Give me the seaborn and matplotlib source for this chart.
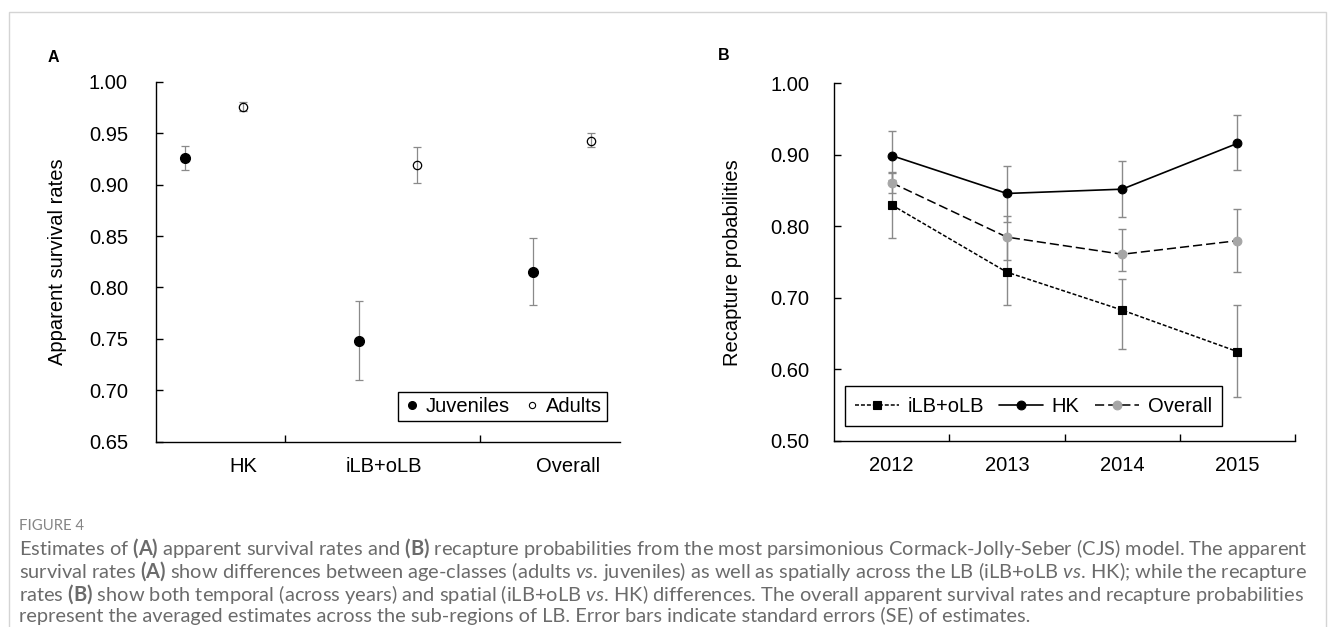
import numpy as np
import pandas as pd
import matplotlib
matplotlib.use("Agg")
import matplotlib.pyplot as plt
from matplotlib.lines import Line2D
from matplotlib.patches import Rectangle
from matplotlib.ticker import FixedLocator, FormatStrFormatter
import seaborn as sns

# ---------------- data ----------------
# Panel A: apparent survival rates
regions = ["HK", "iLB+oLB", "Overall"]
age_classes = ["Juveniles", "Adults"]
juv_survival = [0.926, 0.748, 0.815]
juv_lower = [0.914, 0.710, 0.783]
juv_upper = [0.938, 0.787, 0.848]
adult_survival = [0.976, 0.919, 0.943]
adult_lower = [0.9715, 0.902, 0.937]
adult_upper = [0.9805, 0.937, 0.950]

# Panel B: recapture probabilities
years = ["2012", "2013", "2014", "2015"]
series_names = ["iLB+oLB", "HK", "Overall"]
ilb_recap = [0.830, 0.736, 0.683, 0.625]
ilb_lower = [0.784, 0.690, 0.628, 0.562]
ilb_upper = [0.876, 0.782, 0.726, 0.690]
hk_recap = [0.899, 0.846, 0.852, 0.916]
hk_lower = [0.865, 0.806, 0.813, 0.879]
hk_upper = [0.934, 0.885, 0.892, 0.955]
overall_recap = [0.861, 0.785, 0.761, 0.780]
overall_lower = [0.847, 0.753, 0.738, 0.736]
overall_upper = [0.875, 0.815, 0.797, 0.824]

caption_title = "FIGURE 4"
caption_lines = [
    r"Estimates of $\mathbf{(A)}$ apparent survival rates and $\mathbf{(B)}$ recapture probabilities from the most parsimonious Cormack-Jolly-Seber (CJS) model. The apparent",
    r"survival rates $\mathbf{(A)}$ show differences between age-classes (adults $\mathit{vs.}\,$juveniles) as well as spatially across the LB (iLB+oLB $\mathit{vs.}\,$HK); while the recapture",
    r"rates $\mathbf{(B)}$ show both temporal (across years) and spatial (iLB+oLB $\mathit{vs.}\,$HK) differences. The overall apparent survival rates and recapture probabilities",
    r"represent the averaged estimates across the sub-regions of LB. Error bars indicate standard errors (SE) of estimates.",
]

# ---------------- style ----------------
sns.set_theme(style="ticks")
plt.rcParams.update({
    "font.family": ["Liberation Sans", "DejaVu Sans"],
    "mathtext.fontset": "custom",
    "mathtext.rm": "Lato",
    "mathtext.bf": "Lato:bold",
    "mathtext.it": "Lato:italic",
    "axes.edgecolor": "black",
    "axes.linewidth": 1.0,
    "xtick.color": "black",
    "ytick.color": "black",
    "text.color": "black",
    "axes.labelcolor": "black",
})

FS = 14.5
ERR = "#8a8a8a"
GRAY = "#a6a6a6"
W, H, DPI = 1335, 627, 100

fig = plt.figure(figsize=(W / DPI, H / DPI), dpi=DPI)
fig.patch.set_facecolor("white")


def px_axes(l, t, r, b):
    return fig.add_axes([l / W, 1 - b / H, (r - l) / W, (b - t) / H])


axA = px_axes(155.7, 82, 620, 441.5)
axB = px_axes(834, 83.3, 1295, 441)

# ---------------- Panel A ----------------
dfA = pd.DataFrame({
    "region": regions * 2,
    "age": [age_classes[0]] * len(regions) + [age_classes[1]] * len(regions),
    "rate": juv_survival + adult_survival,
})
sns.pointplot(data=dfA, x="region", y="rate", hue="age", order=regions,
              hue_order=age_classes, palette=["black", "black"], markers="o",
              linestyles="none", dodge=1 / 3, errorbar=None, legend=False,
              markeredgewidth=1.0, ax=axA)
ptsA = list(axA.lines)
ptsA[0].set_markersize(7.0)
ptsA[1].set_markersize(6.0)
ptsA[1].set_markerfacecolor("none")
ptsA[1].set_markeredgewidth(0.9)
for line, lo, hi in zip(ptsA, [juv_lower, adult_lower], [juv_upper, adult_upper]):
    x = np.asarray(line.get_xdata(), dtype=float)
    y = np.asarray(line.get_ydata(), dtype=float)
    axA.errorbar(x, y, yerr=[y - np.array(lo), np.array(hi) - y], fmt="none",
                 ecolor=ERR, elinewidth=0.9, capsize=2.6, capthick=0.9, zorder=1.5)

axA.set_xlim(-1 / 3, 7 / 3)
axA.set_ylim(0.65, 1.0)
axA.yaxis.set_major_locator(FixedLocator(np.arange(0.65, 1.0001, 0.05)))
axA.yaxis.set_major_formatter(FormatStrFormatter("%.2f"))
label_offsets = [0.17, -0.023, 0.035]
axA.set_xticks([i + o for i, o in enumerate(label_offsets)], regions)
axA.set_xticks([0.4075, 1.527], minor=True)
axA.tick_params(axis="x", which="major", length=0, pad=11, labelsize=FS)
axA.tick_params(axis="x", which="minor", length=5, width=1, direction="in")
axA.tick_params(axis="y", which="major", length=5, width=1, direction="in",
                pad=20, labelsize=FS)
axA.set_xlabel("")
axA.set_ylabel("Apparent survival rates", fontsize=FS)
axA.yaxis.set_label_coords(-0.19, 0.5)
sns.despine(ax=axA)

legA_handles = [
    Line2D([], [], ls="none", marker="o", color="black", markersize=5.5),
    Line2D([], [], ls="none", marker="o", markerfacecolor="none",
           markeredgecolor="black", markersize=4.5, markeredgewidth=0.8),
]
legA = axA.legend(legA_handles, age_classes, loc="lower left",
                  bbox_to_anchor=(0.521, 0.058), borderaxespad=0, ncol=2,
                  fontsize=FS, handlelength=0.9, handletextpad=0.25,
                  columnspacing=0.65, borderpad=0.25, frameon=True,
                  fancybox=False, edgecolor="black", framealpha=1)
legA.get_frame().set_linewidth(1.0)

# ---------------- Panel B ----------------
dfB = pd.DataFrame({
    "year": years * 3,
    "series": [s for s in series_names for _ in years],
    "prob": ilb_recap + hk_recap + overall_recap,
})
sns.pointplot(data=dfB, x="year", y="prob", hue="series", order=years,
              hue_order=series_names, palette=["black", "black", GRAY],
              markers=["s", "o", "o"], linestyles=["--", "-", "--"],
              errorbar=None, legend=False, linewidth=1.1,
              markeredgewidth=0.8, ax=axB)
ptsB = list(axB.lines)
ptsB[0].set_dashes([2.6, 1.3])
ptsB[0].set_markersize(6.0)
ptsB[1].set_linewidth(1.2)
ptsB[1].set_markersize(6.3)
ptsB[2].set_dashes([6.0, 2.6])
ptsB[2].set_color("black")
ptsB[2].set_markerfacecolor(GRAY)
ptsB[2].set_markeredgecolor(GRAY)
ptsB[2].set_markersize(6.3)
for line, lo, hi in zip(ptsB, [ilb_lower, hk_lower, overall_lower],
                        [ilb_upper, hk_upper, overall_upper]):
    x = np.asarray(line.get_xdata(), dtype=float)
    y = np.asarray(line.get_ydata(), dtype=float)
    axB.errorbar(x, y, yerr=[y - np.array(lo), np.array(hi) - y], fmt="none",
                 ecolor=ERR, elinewidth=1.0, capsize=2.6, capthick=1.0, zorder=1.5)

axB.set_xlim(-0.5, len(years) - 0.5)
axB.set_ylim(0.5, 1.0)
axB.yaxis.set_major_locator(FixedLocator(np.arange(0.5, 1.0001, 0.1)))
axB.yaxis.set_major_formatter(FormatStrFormatter("%.2f"))
axB.set_xticks(range(len(years)), years)
axB.set_xticks(np.arange(len(years)) + 0.5, minor=True)
axB.tick_params(axis="x", which="major", length=0, pad=11, labelsize=FS)
axB.tick_params(axis="x", which="minor", length=5, width=1, direction="in")
axB.tick_params(axis="y", which="major", length=5, width=1, direction="in",
                pad=18, labelsize=FS)
axB.set_xlabel("")
axB.set_ylabel("Recapture probabilities", fontsize=FS)
axB.yaxis.set_label_coords(-0.1996, 0.5)
sns.despine(ax=axB)

legB = axB.legend(ptsB, series_names, loc="lower left",
                  bbox_to_anchor=(0.023, 0.043), borderaxespad=0, ncol=3,
                  fontsize=FS, handlelength=2.2, handletextpad=0.42,
                  columnspacing=0.75, borderpad=0.5, frameon=True,
                  fancybox=False, edgecolor="black", framealpha=1)
legB.get_frame().set_linewidth(1.0)

# ---------------- panel letters ----------------
fig.text(53 / W, 1 - 57 / H, "A", ha="center", va="center", fontsize=11.5,
         fontweight="bold")
fig.text(724 / W, 1 - 56 / H, "B", ha="center", va="center", fontsize=11.5,
         fontweight="bold")

# ---------------- caption ----------------
CAP_COLOR = "#6b6b6b"
cap_x = 19
cap_right = 1310
title_t = fig.text(cap_x / W, 1 - 526 / H, caption_title, ha="left", va="center",
                   fontsize=10, color="#858585", family=["Lato", "DejaVu Sans"])
cap_ys = [548, 571, 594, 616]
cap_texts = []
for ln, yy in zip(caption_lines, cap_ys):
    cap_texts.append(fig.text(cap_x / W, 1 - yy / H, ln, ha="left", va="center",
                              fontsize=10, color=CAP_COLOR,
                              family=["Lato", "DejaVu Sans"]))
fig.canvas.draw()
r = fig.canvas.get_renderer()
w1 = cap_texts[0].get_window_extent(r).width
scale = (cap_right - cap_x) / w1
for t in cap_texts:
    t.set_fontsize(10 * scale)
wt = title_t.get_window_extent(r).width
title_t.set_fontsize(10 * 64 / wt)

# light frame around the figure
fig.patches.append(Rectangle((9 / W, -0.2), (1326 - 9) / W, 1 - 12 / H + 0.2,
                             transform=fig.transFigure, fill=False,
                             edgecolor="#d4d4d4", linewidth=1.0))

fig.savefig("out.png", dpi=DPI)
